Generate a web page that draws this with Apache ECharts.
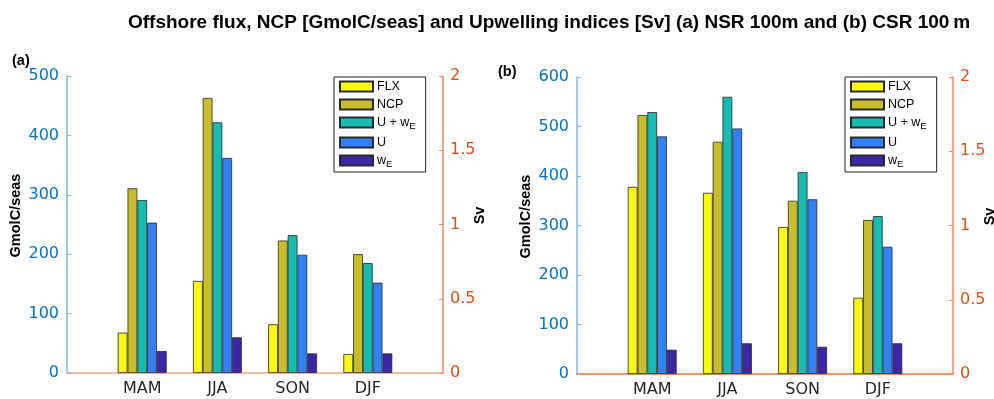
<!DOCTYPE html>
<html>
<head>
<meta charset="utf-8">
<script src="https://cdn.jsdelivr.net/npm/echarts@6/dist/echarts.min.js"></script>
<style>html,body{margin:0;padding:0;background:#fff}#c{width:994px;height:399px}</style>
</head>
<body>
<div id="c"></div>
<script>
// ---- data ----
const seasons = ['MAM', 'JJA', 'SON', 'DJF'];
const seriesNames = ['FLX', 'NCP', 'U + wE', 'U', 'wE'];
// panel (a) NSR 100m
const a_FLX = [68, 155, 82, 32];
const a_NCP = [311, 463, 223, 200];
const a_UwE = [291, 422, 232, 185];
const a_U   = [253, 362, 199, 152];
const a_wE  = [37, 60, 33, 33];
// panel (b) CSR 100m
const b_FLX = [378, 366, 297, 154];
const b_NCP = [523, 469, 350, 311];
const b_UwE = [529, 560, 408, 319];
const b_U   = [480, 496, 353, 257];
const b_wE  = [49, 62, 55, 62];
const leftTicksA = {min: 0, max: 500, interval: 100};
const leftTicksB = {min: 0, max: 600, interval: 100};
const rightTicks = {min: 0, max: 2, interval: 0.5};

const colors = ['#f9f90f', '#c8bd2a', '#16bcb2', '#3481f7', '#3b25a8'];
const xCats = [''].concat(seasons, ['']);
const pad = arr => [null].concat(arr, [null]);

const chart = echarts.init(document.getElementById('c'));
const blue = '#0a72bd', blueLine = '#84b8e0';
const orange = '#d95319', orangeLine = '#ec8a62';

function xAxis(gi, lineColor) {
  return {
    type: 'category', gridIndex: gi, data: xCats, boundaryGap: false,
    axisLine: {show: true, lineStyle: {color: lineColor, width: 1.5}},
    axisTick: {show: false},
    axisLabel: {interval: 0, color: '#262626', fontFamily: 'DejaVu Sans', fontSize: 16, margin: 8},
    splitLine: {show: false}
  };
}
function yLeft(gi, t) {
  return {
    type: 'value', gridIndex: gi, position: 'left', min: t.min, max: t.max, interval: t.interval,
    name: 'GmolC/seas', nameLocation: 'middle', nameGap: 44, nameMoveOverlap: false,
    nameTextStyle: {fontFamily: 'Liberation Sans', fontWeight: 'bold', fontSize: 14.5, color: '#000', padding: [0, 0, 0, 18]},
    axisLine: {show: true, lineStyle: {color: blueLine, width: 1.5}},
    axisTick: {show: true, inside: true, length: 4, lineStyle: {color: blueLine}},
    axisLabel: {color: blue, fontFamily: 'DejaVu Sans', fontSize: 16, margin: 8},
    splitLine: {show: false}
  };
}
function yRight(gi, t) {
  return {
    type: 'value', gridIndex: gi, position: 'right', min: t.min, max: t.max, interval: t.interval,
    name: 'Sv', nameLocation: 'middle', nameGap: 29, nameMoveOverlap: false,
    nameTextStyle: {fontFamily: 'Liberation Sans', fontWeight: 'bold', fontSize: 14.5, color: '#000', padding: [0, 0, 0, 18]},
    axisLine: {show: true, lineStyle: {color: orangeLine, width: 1.5}},
    axisTick: {show: true, inside: true, length: 4, lineStyle: {color: orangeLine}},
    axisLabel: {color: orange, fontFamily: 'DejaVu Sans', fontSize: 16, margin: 7},
    splitLine: {show: false}
  };
}
const panelData = [
  [a_FLX, a_NCP, a_UwE, a_U, a_wE],
  [b_FLX, b_NCP, b_UwE, b_U, b_wE]
];
const series = [];
panelData.forEach((arrs, p) => {
  arrs.forEach((vals, i) => {
    series.push({
      type: 'bar', name: seriesNames[i], xAxisIndex: p, yAxisIndex: p * 2,
      data: pad(vals), barGap: '0%', barCategoryGap: '35%',
      itemStyle: {color: colors[i], borderColor: '#2a2a2a', borderWidth: 0.8},
      emphasis: {disabled: true}, animation: false
    });
  });
});
function legend(left) {
  return {
    orient: 'vertical', left: left, top: 77, data: seriesNames,
    icon: 'rect',
    itemWidth: 33, itemHeight: 10, itemGap: 5, padding: [3, 10, 3, 5],
    borderColor: '#222', borderWidth: 1, backgroundColor: '#fff',
    selectedMode: false,
    formatter: n => n === 'U + wE' ? '{t|U + w}{s|E}' : (n === 'wE' ? '{t|w}{s|E}' : '{t|' + n + '}'),
    textStyle: {
      fontFamily: 'Liberation Sans', color: '#000', padding: [0, 0, 0, -1],
      rich: {
        t: {fontFamily: 'Liberation Sans', fontSize: 12.5, color: '#000'},
        s: {fontFamily: 'Liberation Sans', fontSize: 9.5, color: '#000', padding: [7, 0, 0, 0]}
      }
    }
  };
}
chart.setOption({
  animation: false,
  title: {
    text: 'Offshore flux, NCP [GmolC/seas] and Upwelling indices [Sv] (a) NSR 100m and (b) CSR 100\u2009m',
    left: 123, top: 8,
    textStyle: {fontFamily: 'Liberation Sans', fontWeight: 'bold', fontSize: 19, color: '#000'}
  },
  grid: [
    {left: 67, right: 551, top: 76, bottom: 26, containLabel: false, outerBoundsMode: 'none'},
    {left: 577, right: 41, top: 77, bottom: 25, containLabel: false, outerBoundsMode: 'none'}
  ],
  xAxis: [xAxis(0, '#f2a68c'), xAxis(1, '#ea6d3a')],
  yAxis: [yLeft(0, leftTicksA), yRight(0, rightTicks), yLeft(1, leftTicksB), yRight(1, rightTicks)],
  legend: [legend(334), legend(845)],
  graphic: [
    {type: 'text', left: 12, top: 53, style: {text: '(a)', font: 'bold 14.5px "Liberation Sans"', fill: '#000'}},
    {type: 'text', left: 498, top: 64, style: {text: '(b)', font: 'bold 14.5px "Liberation Sans"', fill: '#000'}}
  ],
  series: series
});
</script>
</body>
</html>
